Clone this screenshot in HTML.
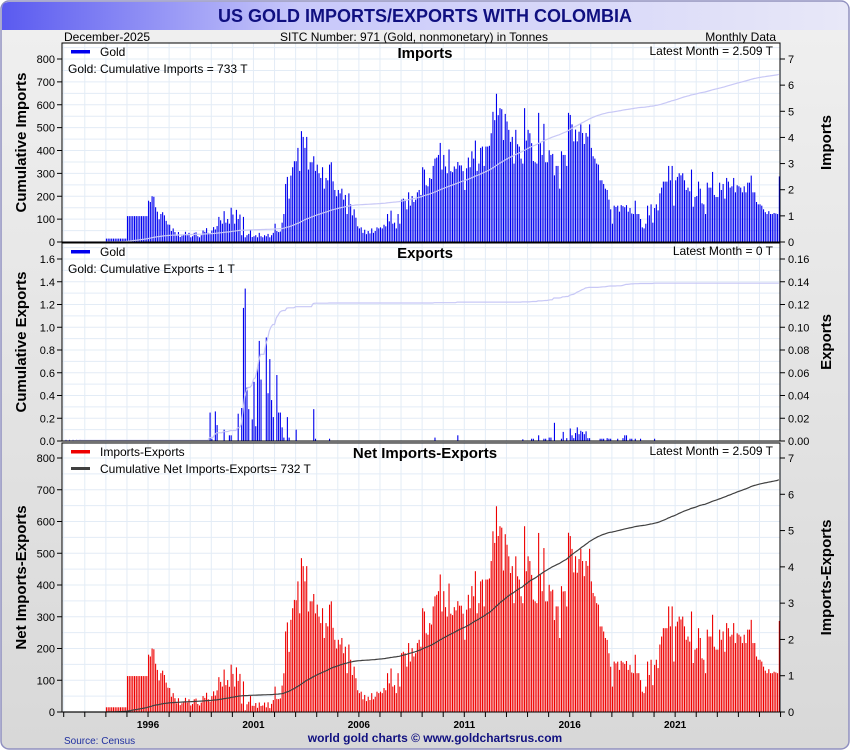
<!DOCTYPE html>
<html><head><meta charset="utf-8"><style>
body{margin:0;width:850px;height:750px;overflow:hidden;background:#fff;font-family:"Liberation Sans",Arial,sans-serif}
svg text{font-family:"Liberation Sans",Arial,sans-serif}
</style></head><body>
<svg id="chart" width="850" height="750" xmlns="http://www.w3.org/2000/svg">
<defs>
<linearGradient id="tg" x1="0" x2="1" y1="0" y2="0"><stop offset="0" stop-color="#5a5af0"/><stop offset="0.35" stop-color="#c8c8fa"/><stop offset="1" stop-color="#e8e8f8"/></linearGradient>
<linearGradient id="bg" x1="0" x2="0" y1="0" y2="1"><stop offset="0" stop-color="#f0f0f0"/><stop offset="1" stop-color="#d8d8d8"/></linearGradient>
</defs>
<rect x="1" y="1" width="848" height="748" rx="8" fill="url(#bg)" stroke="#9090c0" stroke-width="1.5"/>
<path d="M2 30 V9 Q2 2 9 2 H841 Q848 2 848 9 V30 Z" fill="url(#tg)"/>
<text x="425" y="22" text-anchor="middle" font-size="18" font-weight="bold" fill="#101080">US GOLD IMPORTS/EXPORTS WITH COLOMBIA</text>
<text x="64" y="41" font-size="12">December-2025</text>
<text x="414" y="41" font-size="12" text-anchor="middle">SITC Number: 971 (Gold, nonmonetary) in Tonnes</text>
<text x="776" y="41" font-size="12" text-anchor="end">Monthly Data</text>
<g id="plots"></g>
<text x="64" y="744" font-size="10" fill="#2030a0">Source: Census</text>
<text x="435" y="742" font-size="12" font-weight="bold" fill="#101080" text-anchor="middle">world gold charts © www.goldchartsrus.com</text>
</svg>
<script>
// monthly imports (tonnes), Jan 1994 .. Dec 2025
const imports = [
.13,.13,.13,.13,.13,.13,.13,.13,.13,.13,.13,.13,
.99,.99,.99,.99,.99,.99,.99,.99,.99,.99,.99,.99,
1.58,1.53,1.75,1.73,1.33,1.16,.87,1.07,1.14,1.02,.81,.67,
.66,.42,.52,.38,.24,.38,.19,.24,.29,.39,.26,.35,
.18,.22,.35,.37,.22,.18,.26,.44,.39,.53,.35,.31,
.44,.57,.48,.61,.96,.83,.70,1.18,.74,.88,.70,1.31,
1.05,.70,1.23,.88,1.05,.26,.96,.18,.26,.31,.44,.19,
.22,.26,.18,.35,.22,.18,.26,.22,.31,.18,.26,.35,
.70,.42,.38,.40,.74,1.07,2.22,2.49,1.66,2.54,2.86,3.09,
3.09,3.60,2.72,4.24,4.02,3.60,4.02,2.77,3.05,3.05,3.28,2.72,
2.96,2.63,2.45,2.86,2.04,2.45,2.36,2.96,3.05,2.32,1.99,1.75,
1.99,1.86,2.04,1.62,1.80,1.07,1.86,1.44,1.02,1.25,.93,.60,
.52,.56,.35,.47,.30,.42,.33,.52,.35,.42,.56,.52,
.56,.52,.66,.60,1.07,.79,1.20,.70,.74,.52,1.07,.70,
1.62,1.66,1.62,1.25,1.90,1.39,1.76,1.53,1.62,1.90,1.99,1.80,
2.86,2.77,2.17,2.13,2.45,2.41,2.91,3.19,3.23,3.33,3.79,2.77,
3.33,2.89,2.63,3.54,2.71,2.67,2.89,2.80,3.06,2.93,2.93,2.71,
1.99,2.82,3.23,2.86,3.47,3.19,3.88,2.72,3.00,3.60,3.65,2.91,
3.65,3.65,3.68,4.16,4.98,4.66,5.67,4.85,5.12,5.08,3.90,4.90,
4.61,4.29,3.83,4.02,3.00,4.29,3.74,3.65,3.19,3.00,5.12,3.88,
4.29,4.16,3.78,3.10,3.05,3.00,4.94,3.78,3.33,4.52,3.05,3.05,
3.51,3.33,3.37,2.55,2.91,2.91,2.04,3.47,3.33,3.33,2.91,4.94,
4.86,4.50,3.85,4.30,3.85,4.22,4.50,4.17,3.75,4.17,4.03,4.50,
3.60,3.28,3.19,3.00,2.96,2.36,2.36,2.22,2.04,1.99,1.62,1.25,
.70,1.39,1.34,1.39,1.16,1.41,1.37,1.33,1.41,1.16,1.30,1.09,
1.07,1.58,1.07,1.07,.88,.56,.52,.70,1.39,1.02,1.44,.74,
1.30,1.44,1.21,1.86,2.08,2.31,2.31,2.31,2.91,2.36,2.91,1.39,
2.36,2.49,2.63,2.55,2.63,2.36,1.99,2.08,1.94,2.77,1.35,1.72,
1.76,2.31,2.04,1.48,1.44,1.07,2.27,2.08,2.08,2.68,1.80,1.72,
1.72,2.27,1.99,2.22,1.66,2.45,2.31,2.08,2.13,2.45,1.90,2.17,
2.13,2.08,1.90,2.13,1.90,2.27,2.27,2.54,1.90,1.90,1.53,1.44,
1.44,1.39,1.25,1.14,1.07,1.18,1.07,1.07,1.11,1.09,1.07,2.509];
const importStartMonth = 24; // months after Jan 1992
// exports: month index (from Jan 1992) and tonnes
const exportMonths = [1,3,5,7,9,83,84,86,87,91,94,95,99,101,102,103,104,105,107,108,109,110,111,112,115,116,117,118,119,121,122,123,124,125,127,128,132,142,143,151,211,224,261,266,267,270,273,274,276,277,279,283,284,286,288,289,290,291,292,293,294,295,296,297,298,299,305,306,307,309,310,311,315,318,319,320,322,323,325,328,336];
const exportValues = [.001,.001,.001,.001,.001,.025,.002,.026,.014,.01,.005,.005,.024,.029,.117,.134,.047,.028,.019,.052,.013,.065,.088,.054,.091,.042,.072,.036,.021,.058,.025,.025,.012,.003,.021,.003,.01,.028,.002,.002,.003,.005,.0015,.002,.002,.005,.002,.002,.003,.003,.016,.002,.008,.0025,.011,.005,.0025,.007,.012,.006,.009,.008,.006,.0085,.0025,.0025,.002,.002,.002,.0025,.002,.002,.002,.0025,.005,.005,.002,.002,.002,.002,.002];
const yearLabels = ["1996","2001","2006","2011","2016","2021"];
const leftTicksA = [0,100,200,300,400,500,600,700,800];
const rightTicksA = [0,1,2,3,4,5,6,7];
const leftTicksB = ["0.0","0.2","0.4","0.6","0.8","1.0","1.2","1.4","1.6"];
const rightTicksB = ["0.00","0.02","0.04","0.06","0.08","0.10","0.12","0.14","0.16"];

const NS="http://www.w3.org/2000/svg";
const root=document.getElementById('plots');
const X0=62, X1=780, M0=63.7, MW=1.757;
const xm = m => M0 + m*MW;
function el(tag,attrs,parent,txt){const e=document.createElementNS(NS,tag);for(const k in attrs)e.setAttribute(k,attrs[k]);if(txt!==undefined)e.textContent=txt;(parent||root).appendChild(e);return e;}

const totalMonths=408;
const impFull=new Array(totalMonths).fill(0);
imports.forEach((v,i)=>{impFull[importStartMonth+i]=v;});
const expFull=new Array(totalMonths).fill(0);
exportMonths.forEach((m,i)=>{expFull[m]=exportValues[i];});
const netFull=impFull.map((v,i)=>v-expFull[i]);
function cum(a){let s=0;return a.map(v=>s+=v);}

function panel(cfg){
  const g=el('g',{});
  
  
  el('rect',{x:X0,y:cfg.top,width:X1-X0,height:cfg.bottom-cfg.top,fill:'#fff'},g);
  const yL=v=>cfg.bottom-(v/cfg.lmax)*(cfg.bottom-cfg.axTop);
  const yR=v=>cfg.bottom-(v/cfg.rmax)*(cfg.bottom-cfg.axTop);
  for(let y=1992;y<=2026;y++){const x=xm((y-1992)*12);const l=el('line',{x1:x,x2:x,y1:cfg.top,y2:cfg.bottom,stroke:'#e3ecf6','stroke-width':1},g);}
  const step=(cfg.bottom-cfg.axTop)/8;
  for(let y=cfg.bottom-step/2;y>cfg.top;y-=step/2){el('line',{x1:X0,x2:X1,y1:y,y2:y,stroke:'#e3ecf6','stroke-width':1},g);}
  cfg.bars.forEach((v,m)=>{ if(v<=0)return; const y=yR(v);
    const b=el('rect',{x:xm(m),y:y,width:1.1,height:cfg.bottom-y,fill:cfg.color},g);
    
    });
  const c=cum(cfg.bars); let d='';
  c.forEach((v,m)=>{ d+=(d?'L':'M')+xm(m).toFixed(1)+' '+yL(v).toFixed(1);});
  const p=el('path',{d:d,fill:'none',stroke:cfg.lineColor,'stroke-width':cfg.lineW},g);
  
  
  el('rect',{x:X0,y:cfg.top,width:X1-X0,height:cfg.bottom-cfg.top,fill:'none',stroke:'#000','stroke-width':1},g);
  cfg.lticks.forEach((t,i)=>{const y=cfg.bottom-i*step;
    el('line',{x1:X0-5,x2:X0,y1:y,y2:y,stroke:'#000'},g);
    const tx=el('text',{x:X0-7,y:y+4,'font-size':11,'text-anchor':'end'},g,t);
    
    });
  const rstep=(cfg.bottom-cfg.axTop)/(cfg.rticks.length-1);
  cfg.rticks.forEach((t,i)=>{const y=cfg.bottom-i*rstep;
    el('line',{x1:X1,x2:X1+5,y1:y,y2:y,stroke:'#000'},g);
    const tx=el('text',{x:X1+8,y:y+4,'font-size':11},g,t);
    
    });
  const mid=(cfg.top+cfg.bottom)/2;
  const lt=el('text',{x:0,y:0,'font-size':15,'font-weight':'bold','text-anchor':'middle',transform:`translate(26 ${mid}) rotate(-90)`},g,cfg.ltitle);
  
  
  const rt=el('text',{x:0,y:0,'font-size':15,'font-weight':'bold','text-anchor':'middle',transform:`translate(831 ${mid}) rotate(-90)`},g,cfg.rtitle);
  
  
  const pt=el('text',{x:425,y:cfg.top+15,'font-size':15,'font-weight':'bold','text-anchor':'middle'},g,cfg.title);
  
  
  el('rect',{x:71,y:cfg.top+7,width:19,height:3.5,fill:cfg.color},g);
  const l1=el('text',{x:100,y:cfg.top+13,'font-size':12},g,cfg.leg1);
  
  
  if(cfg.leg2sw) el('rect',{x:71,y:cfg.top+24,width:19,height:3,fill:cfg.lineColor},g);
  const l2=el('text',{x:cfg.leg2sw?100:68,y:cfg.top+30,'font-size':12},g,cfg.leg2);
  
  
  const lm=el('text',{x:773,y:cfg.top+12,'font-size':12,'text-anchor':'end'},g,cfg.latest);
  
  
}
const fmtT=v=>(+v.toFixed(3)).toString();
panel({name:'imports-panel',top:43,bottom:242,axTop:59,lmax:800,rmax:7,bars:impFull,color:'#0000ee',lineColor:'#c8c8f6',lineW:1.2,
 lticks:leftTicksA,rticks:rightTicksA,ltitle:'Cumulative Imports',rtitle:'Imports',title:'Imports',leg1:'Gold',
 leg2:'Gold: Cumulative Imports = '+Math.round(cum(impFull)[407])+' T',latest:'Latest Month = '+fmtT(impFull[407])+' T'});
panel({name:'exports-panel',top:243,bottom:441,axTop:259,lmax:1.6,rmax:0.16,bars:expFull,color:'#0000ee',lineColor:'#c8c8f6',lineW:1.2,
 lticks:leftTicksB,rticks:rightTicksB,ltitle:'Cumulative Exports',rtitle:'Exports',title:'Exports',leg1:'Gold',
 leg2:'Gold: Cumulative Exports = 1 T',latest:'Latest Month = '+fmtT(expFull[407])+' T'});
panel({name:'net-panel',top:443,bottom:712,axTop:458,lmax:800,rmax:7,bars:netFull,color:'#ee0000',lineColor:'#404040',lineW:1.2,leg2sw:true,
 lticks:leftTicksA,rticks:rightTicksA,ltitle:'Net Imports-Exports',rtitle:'Imports-Exports',title:'Net Imports-Exports',leg1:'Imports-Exports',
 leg2:'Cumulative Net Imports-Exports= '+Math.round(cum(netFull)[407])+' T',latest:'Latest Month = '+fmtT(netFull[407])+' T'});
for(let y=1992;y<=2026;y++){const x=xm((y-1992)*12);el('line',{x1:x,x2:x,y1:712,y2:717,stroke:'#000'});}
yearLabels.forEach(lbl=>{const x=xm((+lbl-1992)*12);
  const t=el('text',{x:x,y:728,'font-size':10,'font-weight':'bold','text-anchor':'middle'},root,lbl);
  
  });
</script>
</body></html>
